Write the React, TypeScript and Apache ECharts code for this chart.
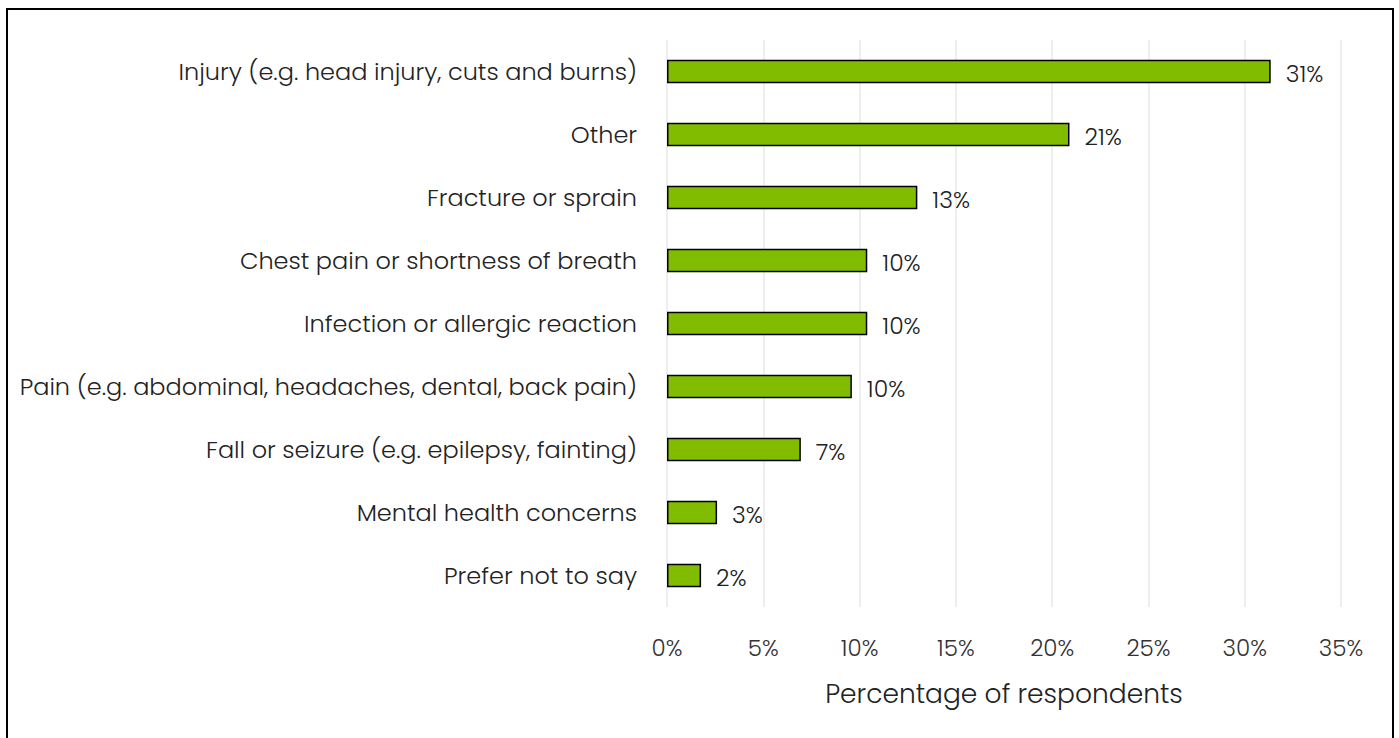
import React, { useEffect, useRef } from "react";
import * as echarts from "echarts";

const categories = [
  "Injury (e.g. head injury, cuts and burns)",
  "Other",
  "Fracture or sprain",
  "Chest pain or shortness of breath",
  "Infection or allergic reaction",
  "Pain (e.g. abdominal, headaches, dental, back pain)",
  "Fall or seizure (e.g. epilepsy, fainting)",
  "Mental health concerns",
  "Prefer not to say",
];
const values = [31.35, 20.9, 13.0, 10.4, 10.4, 9.6, 6.95, 2.6, 1.77];
const valueLabels = ["31%", "21%", "13%", "10%", "10%", "10%", "7%", "3%", "2%"];
const xTicks = [0, 5, 10, 15, 20, 25, 30, 35];
const axisTitle = "Percentage of respondents";

const FONT = "Poppins, 'Open Sans', 'Noto Sans', sans-serif";

export default function App() {
  const ref = useRef<HTMLDivElement>(null);
  useEffect(() => {
    if (!ref.current) return;
    const chart = echarts.init(ref.current, undefined, { renderer: "svg" });
    chart.setOption({
      animation: false,
      textStyle: { fontFamily: FONT, fontWeight: 300 },
      graphic: [
        {
          type: "rect",
          shape: { x: 7, y: 9, width: 1386, height: 740 },
          style: { fill: "none", stroke: "#000", lineWidth: 2 },
          silent: true,
        },
      ],
      grid: { left: 667, right: 58, top: 40, bottom: 131, containLabel: false },
      xAxis: {
        type: "value",
        min: xTicks[0],
        max: xTicks[xTicks.length - 1],
        interval: 5,
        name: axisTitle,
        nameLocation: "middle",
        nameGap: 73,
        nameTextStyle: { fontSize: 26.5, color: "#222", fontFamily: FONT, fontWeight: 300 },
        axisLine: { show: false },
        axisTick: { show: false },
        axisLabel: {
          margin: 29,
          fontSize: 23,
          color: "#333",
          fontFamily: FONT,
          fontWeight: 300,
          formatter: (v: number) => v + "%",
        },
        splitLine: { show: true, lineStyle: { color: "#e8e8e8", width: 1.5 } },
      },
      yAxis: {
        type: "category",
        inverse: true,
        data: categories,
        axisLine: { show: false },
        axisTick: { show: false },
        axisLabel: {
          margin: 30,
          fontSize: 24,
          color: "#222",
          fontFamily: FONT,
          fontWeight: 300,
        },
      },
      series: [
        {
          type: "bar",
          data: values,
          barCategoryGap: "63%",
          itemStyle: { color: "#82BC00", borderColor: "#000", borderWidth: 1.5 },
          label: {
            show: true,
            position: "right",
            distance: 15,
            offset: [0, 2],
            fontSize: 23.5,
            color: "#222",
            fontFamily: FONT,
            fontWeight: 300,
            formatter: (p: any) => valueLabels[p.dataIndex],
          },
        },
      ],
    });
    return () => chart.dispose();
  }, []);
  return (
    <div
      ref={ref}
      style={{ position: "fixed", left: 0, top: 0, width: 1399, height: 738, background: "#fff" }}
    />
  );
}
